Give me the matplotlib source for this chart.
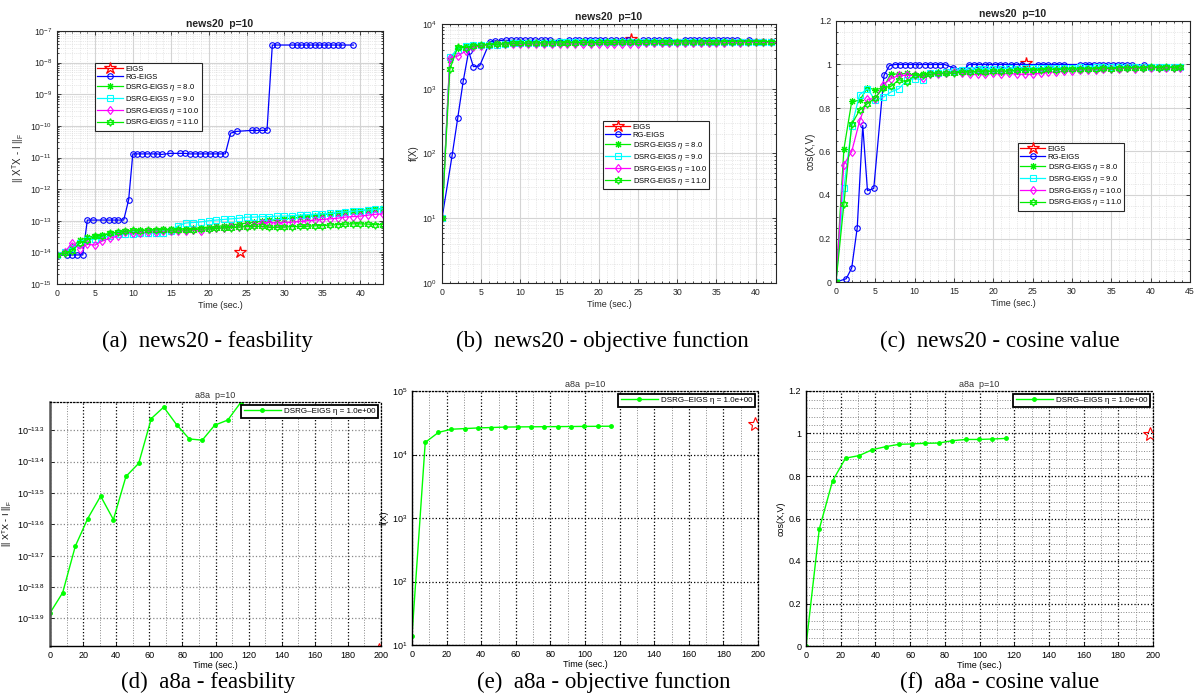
import matplotlib
matplotlib.use("Agg")
import matplotlib.pyplot as plt
import matplotlib.ticker as ticker

W, H = 1194, 694

# ---- news20 runs (top row) ----
t_eigs = [24.1]
fe_eigs = [1.0e-14]
ob_eigs = [5800]
cs_eigs = [1.005]

t_rg = [0, 1.3, 2.0, 2.7, 3.4, 4.0, 4.8, 6.1, 6.8, 7.5, 8.1, 8.8, 9.45, 10.0, 10.6, 11.25,
        11.9, 12.6, 13.2, 13.8, 14.9, 16.2, 16.9, 17.5, 18.2, 18.9, 19.5, 20.2, 20.8, 21.5,
        22.2, 22.9, 23.7, 25.7, 26.3, 27.0, 27.7, 28.4, 29.0, 31.0, 31.6, 32.2, 32.8, 33.4,
        34.0, 34.6, 35.2, 35.8, 36.4, 37.0, 37.6, 39.1]
fe_rg = [8.3e-15, 8.0e-15, 8.3e-15, 8.3e-15, 8.3e-15,
         1.05e-13, 1.05e-13, 1.05e-13, 1.05e-13, 1.05e-13, 1.05e-13, 1.05e-13,
         4.6e-13,
         1.3e-11, 1.3e-11, 1.3e-11, 1.3e-11, 1.3e-11, 1.3e-11, 1.25e-11, 1.35e-11, 1.35e-11,
         1.35e-11, 1.3e-11, 1.3e-11, 1.3e-11, 1.3e-11, 1.3e-11, 1.3e-11, 1.3e-11, 1.3e-11,
         5.9e-11, 6.7e-11, 7.2e-11, 7.2e-11, 7.2e-11, 7.2e-11,
         3.6e-8, 3.6e-8, 3.6e-8, 3.6e-8, 3.6e-8, 3.6e-8, 3.6e-8, 3.6e-8, 3.6e-8, 3.6e-8,
         3.6e-8, 3.6e-8, 3.6e-8, 3.6e-8, 3.6e-8]
ob_rg = [10, 95, 350, 1300, 3800, 2200, 2250, 5300, 5500, 5550, 5600, 5600, 5600, 5600,
         5600, 5600, 5600, 5600, 5600, 5600, 5550, 5600, 5600, 5600, 5600, 5600, 5600, 5600,
         5600, 5600, 5600, 5600, 5600, 5600, 5600, 5600, 5600, 5600, 5600, 5600, 5600, 5600,
         5600, 5600, 5600, 5600, 5600, 5600, 5600, 5600, 5600, 5600]
cs_rg = [0.0, 0.015, 0.065, 0.25, 0.72, 0.42, 0.43, 0.95, 0.995, 1.0, 1.0, 1.0, 1.0, 1.0,
         1.0, 1.0, 1.0, 1.0, 1.0, 1.0, 0.985, 0.975, 1.0, 1.0, 1.0, 1.0, 1.0, 1.0, 1.0, 1.0,
         1.0, 1.0, 1.0, 1.0, 1.0, 1.0, 1.0, 1.0, 1.0, 1.0, 1.0, 1.0, 1.0, 1.0, 1.0, 1.0, 1.0,
         1.0, 1.0, 1.0, 0.997, 1.0]

t_ds = [0, 1, 2, 3, 4, 5, 6, 7, 8, 9, 10, 11, 12, 13, 14, 15, 16, 17, 18, 19, 20, 21, 22,
        23, 24, 25, 26, 27, 28, 29, 30, 31, 32, 33, 34, 35, 36, 37, 38, 39, 40, 41, 42, 43, 43.7]

fe_eta8 = [8.3e-15, 1.0e-14, 1.5e-14, 2.4e-14, 3.0e-14, 3.3e-14, 3.6e-14, 4.0e-14, 4.3e-14,
           4.6e-14, 4.8e-14, 5.0e-14, 5.1e-14, 5.2e-14, 5.3e-14, 5.4e-14, 5.5e-14, 5.6e-14,
           5.8e-14, 6.0e-14, 6.3e-14, 6.6e-14, 7.0e-14, 7.4e-14, 7.9e-14, 8.4e-14, 9.0e-14,
           9.6e-14, 1.02e-13, 1.08e-13, 1.15e-13, 1.2e-13, 1.28e-13, 1.35e-13, 1.45e-13,
           1.55e-13, 1.65e-13, 1.75e-13, 1.88e-13, 2.0e-13, 2.1e-13, 2.2e-13, 2.35e-13,
           2.45e-13, 2.5e-13]
fe_eta9 = [8.3e-15, 1.0e-14, 1.4e-14, 2.0e-14, 2.5e-14, 2.6e-14, 3.0e-14, 3.3e-14, 3.7e-14,
           3.8e-14, 3.8e-14, 4.0e-14, 4.2e-14, 4.0e-14, 4.0e-14, 4.8e-14, 7.0e-14, 8.5e-14,
           8.8e-14, 9.2e-14, 1.0e-13, 1.05e-13, 1.1e-13, 1.15e-13, 1.2e-13, 1.3e-13, 1.3e-13,
           1.35e-13, 1.35e-13, 1.4e-13, 1.4e-13, 1.45e-13, 1.5e-13, 1.55e-13, 1.6e-13,
           1.65e-13, 1.7e-13, 1.8e-13, 1.9e-13, 2.0e-13, 2.1e-13, 2.2e-13, 2.3e-13, 2.4e-13,
           2.45e-13]
fe_eta10 = [8.3e-15, 1.0e-14, 2.0e-14, 1.3e-14, 1.8e-14, 1.7e-14, 2.3e-14, 2.8e-14, 3.3e-14,
            4.5e-14, 4.0e-14, 4.2e-14, 4.4e-14, 4.5e-14, 4.6e-14, 4.8e-14, 4.7e-14, 4.8e-14,
            5.0e-14, 4.6e-14, 5.5e-14, 5.8e-14, 6.0e-14, 6.2e-14, 6.5e-14, 6.8e-14, 7.2e-14,
            8.5e-14, 8.8e-14, 8.5e-14, 8.8e-14, 9.0e-14, 9.5e-14, 1.0e-13, 1.05e-13, 1.1e-13,
            1.15e-13, 1.2e-13, 1.3e-13, 1.35e-13, 1.4e-13, 1.5e-13, 1.6e-13, 1.65e-13, 1.7e-13]
fe_eta11 = [8.3e-15, 9.5e-15, 1.1e-14, 2.0e-14, 2.5e-14, 3.2e-14, 3.4e-14, 4.0e-14, 4.3e-14,
            4.6e-14, 5.0e-14, 4.8e-14, 5.0e-14, 5.1e-14, 5.2e-14, 5.0e-14, 5.2e-14, 5.0e-14,
            5.2e-14, 5.5e-14, 5.5e-14, 5.7e-14, 6.0e-14, 6.0e-14, 6.3e-14, 6.5e-14, 6.6e-14,
            6.7e-14, 6.2e-14, 6.2e-14, 6.3e-14, 6.5e-14, 6.6e-14, 6.7e-14, 6.9e-14, 7.0e-14,
            7.3e-14, 7.5e-14, 7.8e-14, 8.0e-14, 8.0e-14, 7.8e-14, 7.5e-14, 7.6e-14, 7.7e-14]

ob_eta8 = [10, 2800, 4300, 4600, 4800, 4700, 4900, 5000, 5000, 5100, 5100, 5150, 5100, 5150,
           5200, 5150, 5200, 5200, 5250, 5200, 5250, 5200, 5250, 5250, 5300, 5250, 5300, 5250,
           5300, 5300, 5250, 5300, 5300, 5250, 5300, 5300, 5300, 5250, 5300, 5300, 5300, 5300,
           5300, 5300, 5300]
ob_eta9 = [10, 3100, 4000, 4500, 4700, 4800, 4700, 4800, 4900, 5000, 5050, 5100, 5100, 5150,
           5150, 5200, 5200, 5250, 5250, 5250, 5300, 5250, 5300, 5300, 5300, 5300, 5300, 5300,
           5300, 5300, 5300, 5350, 5300, 5350, 5350, 5350, 5350, 5350, 5350, 5350, 5350, 5350,
           5350, 5350, 5350]
ob_eta10 = [10, 3000, 3200, 3800, 4400, 4600, 4800, 4850, 4900, 4900, 4850, 4900, 4900, 4950,
            4900, 4950, 4950, 4900, 4950, 4900, 4950, 4900, 4950, 4900, 4950, 4950, 5000, 5000,
            5000, 5050, 5050, 5100, 5100, 5100, 5150, 5150, 5150, 5200, 5150, 5200, 5200, 5200,
            5200, 5200, 5200]
ob_eta11 = [10, 2000, 4400, 4300, 4600, 4700, 4800, 4850, 4900, 5000, 5050, 5050, 5100, 5100,
            5100, 5100, 5150, 5150, 5200, 5150, 5200, 5200, 5200, 5250, 5250, 5250, 5250, 5300,
            5250, 5300, 5300, 5300, 5300, 5300, 5350, 5300, 5350, 5350, 5350, 5350, 5350, 5350,
            5350, 5350, 5350]

cs_eta8 = [0, 0.61, 0.83, 0.835, 0.893, 0.884, 0.893, 0.958, 0.955, 0.96, 0.95, 0.955, 0.96,
           0.965, 0.96, 0.965, 0.97, 0.965, 0.965, 0.97, 0.97, 0.965, 0.97, 0.97, 0.975, 0.97,
           0.975, 0.975, 0.98, 0.975, 0.98, 0.975, 0.98, 0.98, 0.98, 0.985, 0.98, 0.985, 0.985,
           0.985, 0.985, 0.99, 0.985, 0.99, 0.99]
cs_eta9 = [0, 0.43, 0.716, 0.861, 0.889, 0.835, 0.85, 0.874, 0.889, 0.927, 0.935, 0.93, 0.96,
           0.96, 0.965, 0.97, 0.975, 0.975, 0.98, 0.98, 0.98, 0.98, 0.985, 0.98, 0.985, 0.985,
           0.985, 0.985, 0.985, 0.985, 0.985, 0.99, 0.985, 0.99, 0.99, 0.99, 0.99, 0.99, 0.99,
           0.99, 0.99, 0.99, 0.99, 0.99, 0.99]
cs_eta10 = [0, 0.54, 0.60, 0.74, 0.84, 0.843, 0.907, 0.935, 0.95, 0.95, 0.95, 0.94, 0.955,
            0.955, 0.96, 0.965, 0.96, 0.955, 0.955, 0.955, 0.96, 0.955, 0.96, 0.955, 0.955,
            0.955, 0.96, 0.965, 0.965, 0.97, 0.97, 0.975, 0.975, 0.975, 0.98, 0.98, 0.98,
            0.985, 0.98, 0.985, 0.985, 0.985, 0.985, 0.985, 0.985]
cs_eta11 = [0, 0.357, 0.725, 0.79, 0.82, 0.846, 0.893, 0.90, 0.93, 0.92, 0.95, 0.95, 0.955,
            0.96, 0.96, 0.96, 0.965, 0.965, 0.97, 0.965, 0.97, 0.97, 0.97, 0.975, 0.975, 0.975,
            0.975, 0.98, 0.975, 0.98, 0.98, 0.98, 0.98, 0.98, 0.985, 0.98, 0.985, 0.985, 0.985,
            0.985, 0.99, 0.985, 0.99, 0.985, 0.99]

# ---- a8a run (bottom row) ----
t_a8a = [0, 7.65, 15.3, 22.8, 30.6, 38.3, 45.9, 53.6, 61.2, 68.7, 76.5, 84.2, 92.0, 99.5,
         107.4, 115.2]
fe_a8a = [1.31e-14, 1.52e-14, 2.14e-14, 2.62e-14, 3.09e-14, 2.60e-14, 3.57e-14, 3.93e-14,
          5.46e-14, 5.94e-14, 5.22e-14, 4.70e-14, 4.66e-14, 5.20e-14, 5.40e-14, 6.14e-14]
ob_a8a = [14, 15500, 22300, 25000, 25600, 26200, 26600, 27000, 27200, 27300, 27400, 27500,
          27600, 27700, 27800, 27900]
cs_a8a = [0.0, 0.55, 0.777, 0.884, 0.896, 0.924, 0.938, 0.949, 0.951, 0.954, 0.955, 0.966,
          0.972, 0.972, 0.974, 0.977]
t_eigs_a8a = [198.5]
fe_eigs_a8a = [1.0e-14]
ob_eigs_a8a = [30000]
cs_eigs_a8a = [1.0]

labels = ['EIGS', 'RG-EIGS', r'DSRG-EIGS $\eta$ = 8.0', r'DSRG-EIGS $\eta$ = 9.0',
          r'DSRG-EIGS $\eta$ = 10.0', r'DSRG-EIGS $\eta$ = 11.0']
captions = ['(a)  news20 - feasbility', '(b)  news20 - objective function',
            '(c)  news20 - cosine value', '(d)  a8a - feasbility',
            '(e)  a8a - objective function', '(f)  a8a - cosine value']

plt.rcParams['font.family'] = ['Liberation Sans', 'DejaVu Sans']
plt.rcParams['mathtext.fontset'] = 'custom'
plt.rcParams['mathtext.rm'] = 'Liberation Sans'
plt.rcParams['mathtext.it'] = 'Liberation Sans:italic'
plt.rcParams['mathtext.bf'] = 'Liberation Sans:bold'

fig = plt.figure(figsize=(W / 100, H / 100), dpi=100)


def pos(x0, y0, x1, y1):
    return [x0 / W, 1 - y1 / H, (x1 - x0) / W, (y1 - y0) / H]


def g(v, p):
    return '%g' % v


def style_top(ax, xmax):
    ax.set_xlim(0, xmax)
    ax.xaxis.set_major_locator(ticker.MultipleLocator(5))
    ax.xaxis.set_minor_locator(ticker.MultipleLocator(1))
    ax.tick_params(which='both', direction='in', top=True, right=True,
                   labelsize=6.3, colors='#262626', width=0.6)
    ax.tick_params(which='major', length=3)
    ax.tick_params(which='minor', length=1.5)
    ax.grid(True, which='major', color='#d4d4d4', lw=0.8)
    ax.grid(True, which='minor', color='#d4d4d4', lw=0.5, ls=':')
    ax.set_axisbelow(True)
    for s in ax.spines.values():
        s.set_color('#262626')
        s.set_linewidth(0.8)
    ax.set_title('news20  p=10', fontsize=7.5, fontweight='bold', pad=3, color='#222222')
    ax.set_xlabel('Time (sec.)', fontsize=6.5, labelpad=2, color='#262626')


def draw_top(ax, eigs, rg, e8, e9, e10, e11):
    lw = 0.9
    ax.plot(t_eigs, eigs, '-', color='red', marker='*', ms=9, mfc='none', mew=0.9, lw=lw)
    ax.plot(t_rg, rg, '-', color='blue', marker='o', ms=4, mfc='none', mew=0.8, lw=lw)
    ax.plot(t_ds, e8, '-', color='#00ee00', marker=(8, 2, 0), ms=5, mew=0.8, lw=lw)
    ax.plot(t_ds, e9, '-', color='cyan', marker='s', ms=3.8, mfc='none', mew=0.8, lw=lw)
    ax.plot(t_ds, e10, '-', color='magenta', marker='d', ms=4.5, mfc='none', mew=0.8, lw=lw)
    ax.plot(t_ds, e11, '-', color='#00ee00', marker=(6, 1, 0), ms=5.5, mfc='none', mew=0.9, lw=lw)


def top_legend(ax, x, y):
    leg = ax.legend(labels, loc='upper left', bbox_to_anchor=(x, y), borderaxespad=0,
                    fontsize=5.5, handlelength=3.3, handletextpad=0.3, labelspacing=0.12,
                    borderpad=0.3, fancybox=False, framealpha=1, edgecolor='#262626')
    leg.get_frame().set_linewidth(0.8)


# (a) feasibility
ax = fig.add_axes(pos(57, 31, 383, 284))
draw_top(ax, fe_eigs, fe_rg, fe_eta8, fe_eta9, fe_eta10, fe_eta11)
ax.set_yscale('log')
ax.set_ylim(1e-15, 1e-7)
ax.yaxis.set_major_locator(ticker.LogLocator(base=10, numticks=20))
ax.yaxis.set_minor_locator(ticker.LogLocator(base=10, subs=range(2, 10), numticks=20))
style_top(ax, 43.0)
ax.set_ylabel(r'|| X$^{\rm T}$X - I ||$_{\rm F}$', fontsize=7, labelpad=3, color='#262626')
top_legend(ax, 0.117, 0.874)

# (b) objective
ax = fig.add_axes(pos(442, 24, 776, 283))
draw_top(ax, ob_eigs, ob_rg, ob_eta8, ob_eta9, ob_eta10, ob_eta11)
ax.set_yscale('log')
ax.set_ylim(1, 1e4)
ax.yaxis.set_major_locator(ticker.LogLocator(base=10, numticks=20))
ax.yaxis.set_minor_locator(ticker.LogLocator(base=10, subs=range(2, 10), numticks=20))
style_top(ax, 42.6)
ax.set_ylabel('f(X)', fontsize=7, labelpad=2, color='#262626')
top_legend(ax, 0.482, 0.625)

# (c) cosine
ax = fig.add_axes(pos(836, 21, 1190, 282))
draw_top(ax, cs_eigs, cs_rg, cs_eta8, cs_eta9, cs_eta10, cs_eta11)
ax.set_ylim(0, 1.2)
ax.yaxis.set_major_locator(ticker.MultipleLocator(0.2))
ax.yaxis.set_minor_locator(ticker.MultipleLocator(0.05))
ax.yaxis.set_major_formatter(ticker.FuncFormatter(g))
style_top(ax, 45)
ax.set_ylabel('cos(X,V)', fontsize=7, labelpad=2, color='#262626')
top_legend(ax, 0.514, 0.533)


# bottom row
def style_bottom(ax, ygrid_color='k'):
    ax.set_xlim(0, 200)
    ax.xaxis.set_major_locator(ticker.MultipleLocator(20))
    ax.xaxis.set_minor_locator(ticker.MultipleLocator(10))
    ax.tick_params(which='both', direction='in', labelsize=6.5, width=0.6)
    ax.tick_params(which='major', length=3)
    ax.tick_params(which='minor', length=0)
    ax.grid(True, axis='x', which='major', color='k', ls=':', lw=0.9)
    ax.grid(True, axis='x', which='minor', color='#888888', ls=':', lw=0.7)
    ax.grid(True, axis='y', which='major', color=ygrid_color, ls=':', lw=0.9)
    ax.set_axisbelow(True)
    ax.spines['left'].set_linewidth(1.0)
    ax.spines['bottom'].set_linewidth(1.0)
    for s in ('top', 'right'):
        ax.spines[s].set_linestyle(':')
        ax.spines[s].set_linewidth(0.9)
    ax.set_title('a8a  p=10', fontsize=6.5, pad=3, color='#333333')
    ax.set_xlabel('Time (sec.)', fontsize=6.5, labelpad=1)


def draw_bottom(ax, vals, t_star, star):
    ax.plot(t_a8a, vals, '-', color='lime', lw=1.0, marker='.', ms=5,
            label='DSRG\u2013EIGS \u03b7 = 1.0e+00')
    ax.plot(t_star, star, linestyle='none', marker='*', ms=10, mfc='none', mec='red', mew=0.8)
    leg = ax.legend(loc='upper right', bbox_to_anchor=(1, 1), borderaxespad=0.35,
                    fontsize=5.8, handlelength=4.6, handletextpad=0.4, borderpad=0.35,
                    fancybox=False, framealpha=1, edgecolor='k')
    leg.get_frame().set_linewidth(1.3)


# (d)
ax = fig.add_axes(pos(50, 402, 381, 646))
draw_bottom(ax, fe_a8a, t_eigs_a8a, fe_eigs_a8a)
ax.set_yscale('log')
ax.set_ylim(10 ** -13.988, 10 ** -13.21)
dexp = [-13.9, -13.8, -13.7, -13.6, -13.5, -13.4, -13.3]
ax.yaxis.set_major_locator(ticker.FixedLocator([10 ** e for e in dexp]))
ax.yaxis.set_minor_locator(ticker.NullLocator())
ax.yaxis.set_major_formatter(ticker.FixedFormatter([r'$10^{%g}$' % e for e in dexp]))
style_bottom(ax, ygrid_color='#888888')
ax.spines['left'].set_linewidth(1.8)
ax.spines['left'].set_color('#555555')
ax.set_ylabel(r'|| X$^{\rm T}$X - I ||$_{\rm F}$', fontsize=6.5, labelpad=2)

# (e)
ax = fig.add_axes(pos(412, 391, 758, 645))
draw_bottom(ax, ob_a8a, t_eigs_a8a, ob_eigs_a8a)
ax.set_yscale('log')
ax.set_ylim(10, 1e5)
ax.yaxis.set_major_locator(ticker.LogLocator(base=10, numticks=20))
ax.yaxis.set_minor_locator(ticker.NullLocator())
style_bottom(ax)
ax.set_ylabel('f(X)', fontsize=6.5, labelpad=2)

# (f)
ax = fig.add_axes(pos(806, 391, 1153, 646))
draw_bottom(ax, cs_a8a, t_eigs_a8a, cs_eigs_a8a)
ax.set_ylim(0, 1.2)
ax.yaxis.set_major_locator(ticker.MultipleLocator(0.2))
ax.yaxis.set_minor_locator(ticker.MultipleLocator(0.04))
ax.yaxis.set_major_formatter(ticker.FuncFormatter(g))
style_bottom(ax)
ax.grid(True, axis='y', which='minor', color='#888888', ls=':', lw=0.7)
ax.set_ylabel('cos(X,V)', fontsize=6.5, labelpad=2)

# captions
cap_xy = [(207, 347), (602, 347), (1000, 347), (208, 688), (604, 688), (1000, 688)]
for (cx, cy), txt in zip(cap_xy, captions):
    fig.text(cx / W, 1 - cy / H, txt, ha='center', va='baseline', fontsize=16.5,
             family='Liberation Serif')

fig.savefig('out.png', dpi=100)
